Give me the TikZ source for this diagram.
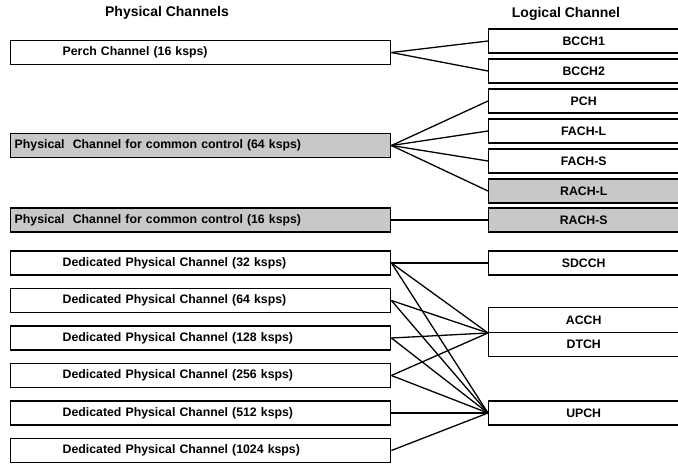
\documentclass[tikz,border=0pt]{standalone}
\usepackage{fontspec}
\setmainfont{Liberation Sans}
\definecolor{shade}{RGB}{200,200,200}
\newcommand{\boxfont}{\bfseries\fontsize{12.3}{14}\selectfont}
\newcommand{\headfont}{\bfseries\fontsize{14}{16}\selectfont}
\begin{document}
\begin{tikzpicture}[x=1pt,y=-1pt,
  phys/.style={draw, line width=1.4pt, text width=380pt, inner xsep=0pt,
    inner ysep=0pt, minimum height=24pt, align=left, anchor=west, font=\boxfont},
  logic/.style={draw, line width=1.4pt, text width=200pt, inner xsep=0pt,
    inner ysep=0pt, minimum height=24pt, align=center, anchor=west, font=\boxfont,
    execute at end node={\hspace*{10pt}}},
  shaded/.style={fill=shade},
  head/.style={font=\headfont, inner sep=0pt},
  link/.style={line width=1.3pt}]
\useasboundingbox (0,0) rectangle (678,467);

% column headings
\node[head] (hphys) at (167,13) {Physical Channels};
\node[head] (hlog) at (566,14) {Logical Channel};

% physical channels
\node[phys] (perch) at (10,52.5) {\hspace*{52pt}Perch Channel (16 ksps)};
\node[phys,shaded] (c64) at (10,145.5) {\hspace*{4pt}Physical\ \ Channel for common control (64 ksps)};
\node[phys,shaded] (c16) at (10,220) {\hspace*{4pt}Physical\ \ Channel for common control (16 ksps)};
\node[phys] (d32) at (10,263) {\hspace*{52pt}Dedicated Physical Channel (32 ksps)};
\node[phys] (d64) at (10,300.5) {\hspace*{52pt}Dedicated Physical Channel (64 ksps)};
\node[phys] (d128) at (10,338) {\hspace*{52pt}Dedicated Physical Channel (128 ksps)};
\node[phys] (d256) at (10,375.5) {\hspace*{52pt}Dedicated Physical Channel (256 ksps)};
\node[phys] (d512) at (10,413) {\hspace*{52pt}Dedicated Physical Channel (512 ksps)};
\node[phys] (d1024) at (10,450.5) {\hspace*{52pt}Dedicated Physical Channel (1024 ksps)};

% logical channels
\node[logic] (bcch1) at (488,41) {BCCH1};
\node[logic] (bcch2) at (488,71) {BCCH2};
\node[logic] (pch) at (488,101) {PCH};
\node[logic] (fachl) at (488,131) {FACH-L};
\node[logic] (fachs) at (488,161) {FACH-S};
\node[logic,shaded] (rachl) at (488,191) {RACH-L};
\node[logic,shaded] (rachs) at (488,220) {RACH-S};
\node[logic] (sdcch) at (488,263) {SDCCH};
\node[logic,minimum height=24.5pt] (acch) at (488,320) {ACCH};
\node[logic,minimum height=24.5pt] (dtch) at (488,344.5) {DTCH};
\node[logic] (upch) at (488,413) {UPCH};

% mapping
\draw[link] (perch.east) -- (bcch1.west);
\draw[link] (perch.east) -- (bcch2.west);
\foreach \t in {pch,fachl,fachs,rachl}
  \draw[link] (c64.east) -- (\t.west);
\draw[link] (c16.east) -- (rachs.west);
\draw[link] (d32.east) -- (sdcch.west);
\foreach \s in {d32,d64,d128,d256}
  \draw[link] (\s.east) -- (acch.south west);
\foreach \s in {d32,d64,d128,d256,d512,d1024}
  \draw[link] (\s.east) -- (upch.west);
\end{tikzpicture}
\end{document}
